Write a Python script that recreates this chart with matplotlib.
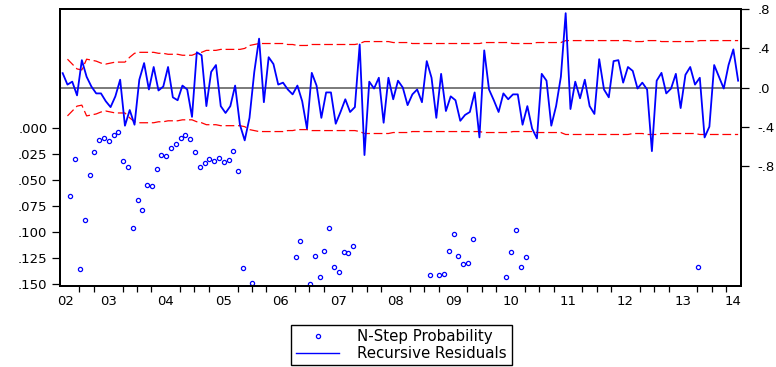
import matplotlib.pyplot as plt
import numpy as np
from matplotlib.lines import Line2D
from matplotlib.ticker import FixedLocator, FuncFormatter
from matplotlib.transforms import offset_copy

plt.rcParams['font.family'] = ['DejaVu Sans']

# month index: 0 = 2002M1, residuals run 2002M3 .. 2013M12
start_month = 2
resid = [
    0.147, 0.03, 0.06, -0.08, 0.28, 0.11, 0.01, -0.06, -0.06, -0.14,
    -0.20, -0.09, 0.08, -0.39, -0.23, -0.38, 0.08, 0.25, -0.02, 0.21,
    -0.03, 0.01, 0.21, -0.10, -0.13, 0.02, -0.02, -0.30, 0.36, 0.33,
    -0.19, 0.16, 0.23, -0.19, -0.26, -0.19, 0.02, -0.38, -0.54, -0.31,
    0.16, 0.50, -0.15, 0.31, 0.24, 0.03, 0.05, -0.02, -0.07, 0.02,
    -0.14, -0.42, 0.15, 0.02, -0.31, -0.05, -0.05, -0.37, -0.25, -0.12,
    -0.25, -0.20, 0.44, -0.69, 0.06, -0.01, 0.10, -0.36, 0.10, -0.12,
    0.07, 0.00, -0.18, -0.07, -0.02, -0.15, 0.27, 0.10, -0.31, 0.14,
    -0.24, -0.09, -0.13, -0.34, -0.28, -0.25, -0.05, -0.51, 0.38, -0.02,
    -0.13, -0.25, -0.06, -0.12, -0.07, -0.07, -0.38, -0.19, -0.42, -0.52,
    0.14, 0.07, -0.39, -0.19, 0.11, 0.76, -0.22, 0.06, -0.11, 0.08,
    -0.19, -0.27, 0.29, -0.02, -0.10, 0.27, 0.28, 0.05, 0.21, 0.17,
    -0.01, 0.05, -0.02, -0.65, 0.07, 0.15, -0.06, -0.01, 0.14, -0.21,
    0.13, 0.21, 0.03, 0.10, -0.51, -0.40, 0.23, 0.11, -0.01, 0.23,
    0.39, 0.07,
]

# two standard error band (upper half), starts one month later
band_start = 3
band = [
    0.29, 0.24, 0.19, 0.18, 0.29, 0.28, 0.27, 0.25, 0.24, 0.25,
    0.26, 0.26, 0.26, 0.31, 0.35, 0.36, 0.36, 0.36, 0.36, 0.35,
    0.35, 0.34, 0.34, 0.34, 0.33, 0.33, 0.33, 0.35, 0.36, 0.38,
    0.38, 0.38, 0.39, 0.39, 0.39, 0.39, 0.39, 0.40, 0.43, 0.44,
    0.45, 0.45, 0.45, 0.45, 0.45, 0.45, 0.44, 0.44, 0.43, 0.43,
    0.43, 0.44, 0.44, 0.44, 0.44, 0.44, 0.44, 0.44, 0.44, 0.44,
    0.44, 0.45, 0.47, 0.47, 0.47, 0.47, 0.47, 0.47, 0.46, 0.46,
    0.46, 0.46, 0.45, 0.45, 0.45, 0.45, 0.45, 0.45, 0.45, 0.45,
    0.45, 0.45, 0.45, 0.45, 0.45, 0.45, 0.45, 0.46, 0.46, 0.46,
    0.46, 0.46, 0.46, 0.45, 0.45, 0.45, 0.45, 0.45, 0.46, 0.46,
    0.46, 0.46, 0.46, 0.46, 0.48, 0.48, 0.48, 0.48, 0.48, 0.48,
    0.48, 0.48, 0.48, 0.48, 0.48, 0.48, 0.48, 0.48, 0.47, 0.47,
    0.47, 0.48, 0.48, 0.48, 0.47, 0.47, 0.47, 0.47, 0.47, 0.47,
    0.47, 0.47, 0.48, 0.48, 0.48, 0.48, 0.48, 0.48, 0.48, 0.48,
    0.48,
]

# N-step forecast probabilities (only those shown, <= .15)
prob_months = [3, 4, 5, 6, 7, 8, 9, 10, 11, 12, 13, 14, 15, 16, 17, 18, 19, 20,
               21, 22, 23, 24, 25, 26, 27, 28, 29, 30, 31, 32, 33, 34, 35, 36,
               37, 38, 39, 41, 50, 51, 53, 54, 55, 56, 57, 58, 59, 60, 61, 62,
               78, 80, 81, 82, 83, 84, 85, 86, 87, 94, 95, 96, 97, 98, 134]
prob_vals = [0.065, 0.0295, 0.1356, 0.088, 0.0446, 0.023, 0.0113, 0.009, 0.0122,
             0.0068, 0.0036, 0.0318, 0.0372, 0.0956, 0.069, 0.079, 0.0545, 0.056,
             0.0388, 0.0254, 0.0266, 0.0192, 0.0151, 0.0096, 0.0061, 0.0103,
             0.023, 0.0369, 0.0337, 0.0292, 0.0311, 0.0286, 0.0327, 0.0305,
             0.0215, 0.041, 0.1346, 0.149, 0.1237, 0.108, 0.150, 0.123, 0.143,
             0.1177, 0.0959, 0.133, 0.138, 0.1186, 0.120, 0.1129, 0.141, 0.1408,
             0.1398, 0.1177, 0.1016, 0.123, 0.131, 0.130, 0.1067, 0.1433, 0.119,
             0.098, 0.133, 0.1235, 0.133]

year_labels = ['02', '03', '04', '05', '06', '07', '08', '09', '10', '11', '12', '13', '14']

resid_x = np.arange(len(resid)) + start_month
band_x = np.arange(len(band)) + band_start
band = np.array(band)

fig = plt.figure(figsize=(7.76, 3.67), dpi=100)
ax = fig.add_axes([0.0773, 0.2215, 0.8776, 0.7532])
axr = ax.twinx()

# left axis: probabilities (inverted)
circle_tr = offset_copy(ax.transData, fig=fig, x=3, y=0, units='dots')
ax.plot(prob_months, prob_vals, linestyle='none', marker='o', markersize=3.0,
        markerfacecolor='none', markeredgecolor='#0000FF', markeredgewidth=0.9,
        transform=circle_tr)
ax.set_ylim(0.1514, -0.1144)
ax.yaxis.set_major_locator(FixedLocator(np.arange(0, 0.151, 0.025)))
ax.yaxis.set_major_formatter(FuncFormatter(lambda v, p: ('%.3f' % v).lstrip('0')))

# right axis: recursive residuals with +/- 2 S.E.
axr.axhline(0, color='#707070', lw=1.3, zorder=1)
axr.plot(band_x, band, color='#FF0000', lw=0.9, dashes=(7, 3))
axr.plot(band_x, -band, color='#FF0000', lw=0.9, dashes=(7, 3))
axr.plot(resid_x, resid, color='#0000FF', lw=1.3)
axr.set_ylim(-2.026, 0.80)
axr.yaxis.set_major_locator(FixedLocator([-0.8, -0.4, 0.0, 0.4, 0.8]))
axr.yaxis.set_major_formatter(FuncFormatter(
    lambda v, p: ('-' if v < -1e-9 else '') + ('%.1f' % abs(v)).lstrip('0')))

ax.set_xlim(1.44, 143.6)
label_pos = [2.7] + [11.5 + 12 * k for k in range(11)] + [141.9]
ax.set_xticks(label_pos)
ax.set_xticklabels(year_labels)
ax.set_xticks(np.arange(5.5, 141, 3), minor=True)
ax.tick_params(axis='x', which='major', length=0, pad=7, labelsize=9.5)
ax.tick_params(axis='x', which='minor', length=4, width=0.9, direction='out')
ax.tick_params(axis='y', length=6, width=0.9, pad=3, labelsize=9.5)
axr.tick_params(axis='y', length=6, width=0.9, pad=6, labelsize=9.5)

for a in (ax, axr):
    for s in a.spines.values():
        s.set_linewidth(1.4)
        s.set_color('black')

handles = [
    Line2D([], [], linestyle='none', marker='o', markersize=3.0,
           markerfacecolor='none', markeredgecolor='#0000FF', markeredgewidth=0.9),
    Line2D([], [], color='#0000FF', lw=1.0),
]
fig.legend(handles, ['N-Step Probability', 'Recursive Residuals'],
           loc='center', bbox_to_anchor=(0.5174, 0.0599), fontsize=10.8,
           frameon=True, fancybox=False, edgecolor='black', framealpha=1,
           handlelength=2.9, handletextpad=1.2, labelspacing=0.1,
           borderpad=0.3, borderaxespad=0)

fig.savefig('out.png', dpi=100)
